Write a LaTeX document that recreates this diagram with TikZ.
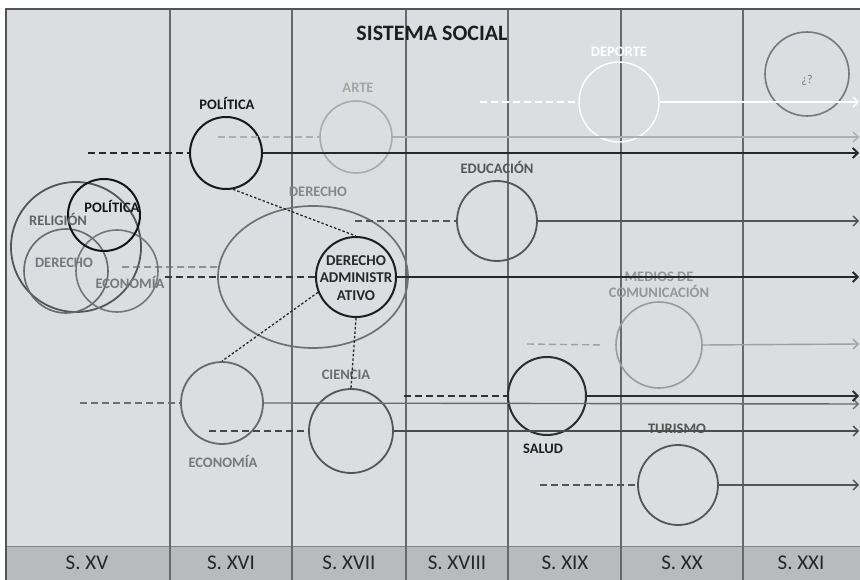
\documentclass[tikz,border=0pt]{standalone}
\usepackage{fontspec}
\setmainfont{Carlito}
\usetikzlibrary{arrows.meta,shapes.geometric}

\begin{document}
\begin{tikzpicture}[x=1pt,y=1pt,yscale=-1,xscale=1,
  ring/.style={circle,draw,inner sep=0pt,line width=1.8pt},
  lbl/.style={inner sep=0.75pt,font=\fontsize{14.5}{16}\selectfont\bfseries,align=center},
  siglo/.style={inner sep=0pt,font=\fontsize{21}{23}\selectfont,color={rgb, 255:red, 38; green, 38; blue, 38 }},
  dashln/.style={line width=1.4pt,dash pattern=on 7pt off 4pt},
  dotln/.style={line width=1.3pt,dash pattern=on 2.5pt off 2pt,color={rgb, 255:red, 40; green, 40; blue, 40 }},
  arr/.style={line width=1.4pt,-{Straight Barb[length=5pt,width=10pt]}}
]
\useasboundingbox (0,0) rectangle (860,580);

%Background and century band
\fill [color={rgb, 255:red, 220; green, 221; blue, 224 }] (6,9) rectangle (860,546);
\fill [color={rgb, 255:red, 185; green, 186; blue, 189 }] (6,546) rectangle (860,580);
\draw [color={rgb, 255:red, 130; green, 130; blue, 132 }, line width=1pt] (6,546) -- (860,546);
\foreach \cx in {170,292,406,508,621,743}
  \draw [color={rgb, 255:red, 105; green, 105; blue, 108 }, line width=1.1pt] (\cx,9) -- (\cx,580);
\draw [color={rgb, 255:red, 85; green, 85; blue, 88 }, line width=2.4pt] (6,580) -- (6,9) -- (860,9);

% Text Node
\node [font=\fontsize{22}{24}\selectfont\bfseries, color={rgb, 255:red, 30; green, 30; blue, 30 }] (titulo) at (432,33) {SISTEMA SOCIAL};

% Centuries
\node [siglo] (s15) at (87,563) {S. XV};
\node [siglo] (s16) at (231,563) {S. XVI};
\node [siglo] (s17) at (349,563) {S. XVII};
\node [siglo] (s18) at (457,563) {S. XVIII};
\node [siglo] (s19) at (565,563) {S. XIX};
\node [siglo] (s20) at (682,563) {S. XX};
\node [siglo] (s21) at (801,563) {S. XXI};

%Shape: Circles of the first period
\node [ring, minimum size=130pt, draw={rgb, 255:red, 85; green, 85; blue, 85 }] (religion) at (76,247) {};
\node [ring, minimum size=84pt, draw={rgb, 255:red, 105; green, 105; blue, 105 }, line width=1.6pt] (derechoA) at (66,271) {};
\node [ring, minimum size=82pt, draw={rgb, 255:red, 118; green, 118; blue, 118 }, line width=1.6pt] (economiaA) at (117,271) {};
\node [ring, minimum size=72pt, draw={rgb, 255:red, 20; green, 20; blue, 20 }, line width=2pt] (politicaA) at (104,215) {};

% Text Node
\node [lbl, color={rgb, 255:red, 100; green, 100; blue, 100 }] (t-religion) at (58,219) {RELIGIÓN};
\node [lbl, color={rgb, 255:red, 20; green, 20; blue, 20 }] (t-politicaA) at (112,206) {POLÍTICA};
\node [lbl, color={rgb, 255:red, 120; green, 120; blue, 120 }] (t-derechoA) at (64,263) {DERECHO};
\node [lbl, color={rgb, 255:red, 120; green, 120; blue, 120 }] (t-economiaA) at (130,282) {ECONOMÍA};

%Shape: Circles and ellipse
\node [ring, minimum size=72pt, draw={rgb, 255:red, 25; green, 25; blue, 25 }, line width=2pt] (politica) at (226,153) {};
\node [ring, minimum size=72pt, draw={rgb, 255:red, 170; green, 170; blue, 170 }, line width=1.6pt] (arte) at (356,137) {};
\node [ring, minimum size=80pt, draw=white, line width=1.4pt] (deporte) at (619,102) {};
\node [ring, minimum size=84pt, draw={rgb, 255:red, 120; green, 120; blue, 120 }, line width=1.6pt] (futuro) at (807,74) {};
\node [ellipse, draw={rgb, 255:red, 112; green, 112; blue, 112 }, line width=1.7pt, inner sep=0pt, minimum width=190pt, minimum height=142pt] (derecho) at (313,277) {};
\node [ring, minimum size=80pt, draw={rgb, 255:red, 30; green, 30; blue, 30 }, line width=2pt] (admin) at (356,277) {};
\node [ring, minimum size=80pt, draw={rgb, 255:red, 85; green, 85; blue, 85 }] (educacion) at (497,221) {};
\node [ring, minimum size=86pt, draw={rgb, 255:red, 155; green, 155; blue, 155 }, line width=1.6pt] (medios) at (659,345) {};
\node [ring, minimum size=82pt, draw={rgb, 255:red, 105; green, 105; blue, 105 }] (economia) at (222,403) {};
\node [ring, minimum size=84pt, draw={rgb, 255:red, 85; green, 85; blue, 85 }] (ciencia) at (351,431) {};
\node [ring, minimum size=78pt, draw={rgb, 255:red, 45; green, 45; blue, 45 }, line width=2pt] (salud) at (547,396) {};
\node [ring, minimum size=80pt, draw={rgb, 255:red, 85; green, 85; blue, 85 }] (turismo) at (678,485) {};

% Text Node
\node [lbl, color={rgb, 255:red, 25; green, 25; blue, 25 }] (t-politica) at (227,103) {POLÍTICA};
\node [lbl, color={rgb, 255:red, 165; green, 165; blue, 165 }] (t-arte) at (358,88) {ARTE};
\node [lbl, color=white] (t-deporte) at (619,52) {DEPORTE};
\node [inner sep=0.75pt, font=\fontsize{12}{14}\selectfont, color={rgb, 255:red, 120; green, 120; blue, 120 }] (t-futuro) at (807,80) {¿?};
\node [lbl, color={rgb, 255:red, 135; green, 135; blue, 135 }] (t-derecho) at (318,192) {DERECHO};
\node [lbl, color={rgb, 255:red, 40; green, 40; blue, 40 }, font=\fontsize{15}{17.5}\selectfont\bfseries] (t-admin) at (356,278) {DERECHO\\ADMINISTR\\ATIVO};
\node [lbl, color={rgb, 255:red, 85; green, 85; blue, 85 }] (t-educacion) at (497,167) {EDUCACIÓN};
\node [lbl, color={rgb, 255:red, 150; green, 150; blue, 150 }] (t-medios) at (659,285) {MEDIOS DE\\COMUNICACIÓN};
\node [lbl, color={rgb, 255:red, 110; green, 110; blue, 110 }] (t-ciencia) at (346,375) {CIENCIA};
\node [lbl, color={rgb, 255:red, 120; green, 120; blue, 120 }] (t-economia) at (223,461) {ECONOMÍA};
\node [lbl, color={rgb, 255:red, 30; green, 30; blue, 30 }] (t-salud) at (543,449) {SALUD};
\node [lbl, color={rgb, 255:red, 85; green, 85; blue, 85 }] (t-turismo) at (677,429) {TURISMO};

% Line ends
\coordinate (politica-in) at (88,153);   \coordinate (politica-out) at (859,153);
\coordinate (arte-in) at (218,137);      \coordinate (arte-out) at (859,137);
\coordinate (deporte-in) at (480,102);   \coordinate (deporte-out) at (859,102);
\coordinate (derecho-in) at (122,267);
\coordinate (admin-in) at (165,277);     \coordinate (admin-out) at (859,277);
\coordinate (educacion-in) at (355,221); \coordinate (educacion-out) at (859,221);
\coordinate (medios-in) at (527,344);    \coordinate (medios-out) at (859,344);
\coordinate (economia-in) at (80,403);   \coordinate (economia-out) at (859,404);
\coordinate (ciencia-in) at (209,431);   \coordinate (ciencia-out) at (859,431);
\coordinate (salud-in) at (404,396);     \coordinate (salud-out) at (859,396);
\coordinate (turismo-in) at (540,485);   \coordinate (turismo-out) at (859,485);

%Straight Lines
\draw [dashln, color={rgb, 255:red, 40; green, 40; blue, 40 }, line width=1.7pt] (politica-in) -- (politica.west);
\draw [arr, color={rgb, 255:red, 40; green, 40; blue, 40 }, line width=1.8pt] (politica.east) -- (politica-out);
\draw [dashln, color={rgb, 255:red, 175; green, 175; blue, 175 }] (arte-in) -- (arte.west);
\draw [arr, color={rgb, 255:red, 175; green, 175; blue, 175 }] (arte.east) -- (arte-out);
\draw [dashln, color=white] (deporte-in) -- (deporte.west);
\draw [arr, color=white] (deporte.east) -- (deporte-out);
\draw [dashln, color={rgb, 255:red, 105; green, 105; blue, 105 }] (derecho-in) -- (derecho.174);
\draw [dashln, color={rgb, 255:red, 55; green, 55; blue, 55 }, line width=1.6pt] (admin-in) -- (admin.west);
\draw [arr, color={rgb, 255:red, 40; green, 40; blue, 40 }, line width=1.8pt] (admin.east) -- (admin-out);
\draw [dashln, color={rgb, 255:red, 85; green, 85; blue, 85 }] (educacion-in) -- (educacion.west);
\draw [arr, color={rgb, 255:red, 85; green, 85; blue, 85 }] (educacion.east) -- (educacion-out);
\draw [dashln, color={rgb, 255:red, 160; green, 160; blue, 160 }] (medios-in) -- ([xshift=-12pt]medios.west);
\draw [arr, color={rgb, 255:red, 160; green, 160; blue, 160 }] (medios.east) -- (medios-out);
\draw [dashln, color={rgb, 255:red, 110; green, 110; blue, 110 }] (economia-in) -- (economia.west);
\draw [arr, color={rgb, 255:red, 105; green, 105; blue, 105 }] (economia.east) -- (economia-out);
\draw [dashln, color={rgb, 255:red, 70; green, 70; blue, 70 }] (ciencia-in) -- (ciencia.west);
\draw [arr, color={rgb, 255:red, 75; green, 75; blue, 75 }] (ciencia.east) -- (ciencia-out);
\draw [dashln, color={rgb, 255:red, 50; green, 50; blue, 50 }, line width=1.6pt] (salud-in) -- (salud.west);
\draw [arr, color={rgb, 255:red, 45; green, 45; blue, 45 }, line width=1.8pt] (salud.east) -- (salud-out);
\draw [dashln, color={rgb, 255:red, 85; green, 85; blue, 85 }] (turismo-in) -- (turismo.west);
\draw [arr, color={rgb, 255:red, 85; green, 85; blue, 85 }] (turismo.east) -- (turismo-out);

%Dotted links
\draw [dotln] (politica.-79) -- (admin.north);
\draw [dotln] (admin.202) -- (economia.north);
\draw [dotln] (admin.south) -- (ciencia.north);

\end{tikzpicture}
\end{document}
